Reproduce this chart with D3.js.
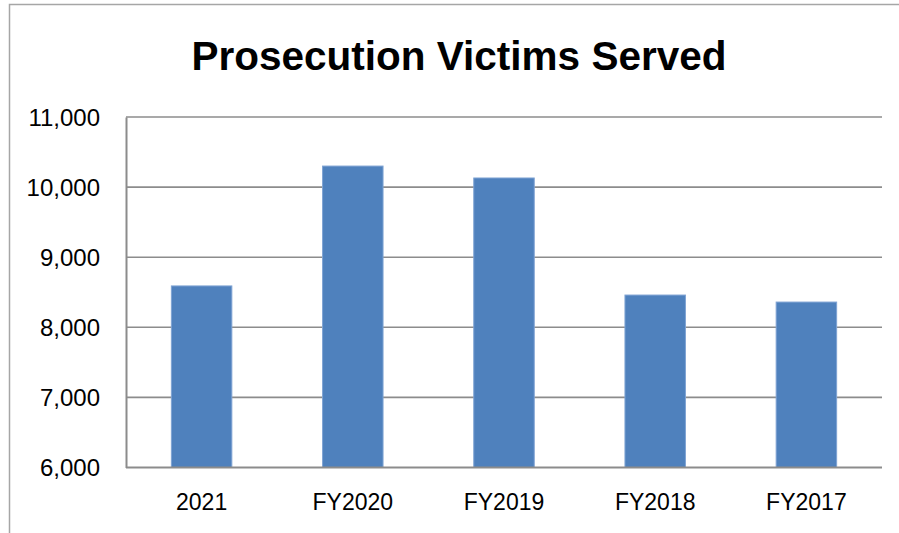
<!DOCTYPE html>
<html>
<head>
<meta charset="utf-8">
<script src="https://cdn.jsdelivr.net/npm/d3@7"></script>
<style>
  html, body { margin: 0; padding: 0; background: #fff; }
  svg { display: block; }
  text { font-family: "Liberation Sans", Arial, sans-serif; fill: #000; }
</style>
</head>
<body>
<div id="chart"></div>
<script>
// categories and values
const categories = ["2021", "FY2020", "FY2019", "FY2018", "FY2017"];
const victimsServed = [8590, 10300, 10130, 8460, 8360];
const yTicks = [6000, 7000, 8000, 9000, 10000, 11000];

const width = 899, height = 533;
const margin = { top: 117, right: 17, bottom: 65, left: 126 };

const svg = d3.select("#chart").append("svg")
    .attr("width", width)
    .attr("height", height);

// outer chart border (only top & left edges are in frame)
svg.append("path")
    .attr("d", `M9.5,${height} L9.5,4.5 L${width},4.5`)
    .attr("fill", "none")
    .attr("stroke", "#a6a6a6")
    .attr("stroke-width", 1.5);

const x = d3.scaleBand()
    .domain(categories)
    .range([margin.left, width - margin.right])
    .paddingInner(0.6)
    .paddingOuter(0.3);

const y = d3.scaleLinear()
    .domain([6000, 11000])
    .range([height - margin.bottom - 0.5, margin.top]);

// gridlines
svg.append("g")
    .selectAll("line")
    .data(yTicks.slice(1))
    .join("line")
    .attr("x1", margin.left)
    .attr("x2", width - margin.right)
    .attr("y1", d => y(d))
    .attr("y2", d => y(d))
    .attr("stroke", "#8c8c8c")
    .attr("stroke-width", 1.6);

// bars
svg.append("g")
    .selectAll("rect")
    .data(categories.map((c, i) => ({ c, v: victimsServed[i] })))
    .join("rect")
    .attr("x", d => x(d.c))
    .attr("width", x.bandwidth())
    .attr("y", d => y(d.v))
    .attr("height", d => y(6000) - y(d.v))
    .attr("fill", "#4f81bd")
    .attr("stroke", "#7fa3d3")
    .attr("stroke-width", 1);

// y axis
const yAxis = svg.append("g")
    .attr("transform", `translate(${margin.left},0)`)
    .call(d3.axisLeft(y).tickValues(yTicks).tickFormat(d3.format(",")).tickSize(0).tickPadding(26));
yAxis.select(".domain").attr("stroke", "#8c8c8c").attr("stroke-width", 2);
yAxis.selectAll("text").style("font-size", "24px").attr("dy", "0.35em");

// x axis
const xAxis = svg.append("g")
    .attr("transform", `translate(0,${y(6000)})`)
    .call(d3.axisBottom(x).tickSize(0).tickPadding(26));
xAxis.select(".domain").attr("stroke", "#8c8c8c").attr("stroke-width", 2)
    .attr("d", `M${margin.left},0H${width - margin.right}`);
xAxis.selectAll("text").style("font-size", "23px");

// title
svg.append("text")
    .attr("x", 459)
    .attr("y", 70)
    .attr("text-anchor", "middle")
    .style("font-size", "40.5px")
    .style("font-weight", "bold")
    .text("Prosecution Victims Served");
</script>
</body>
</html>
